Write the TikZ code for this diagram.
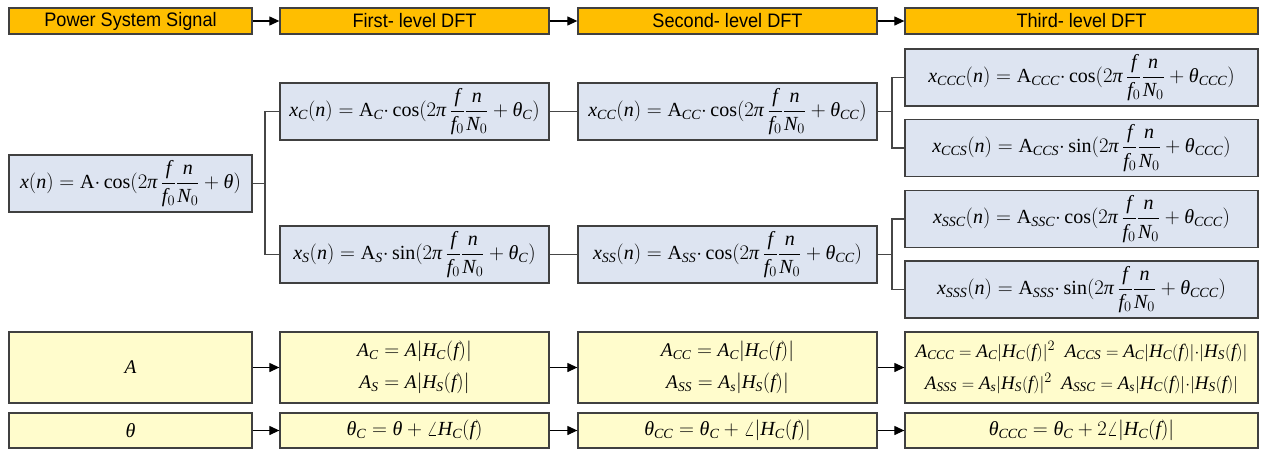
\documentclass[tikz,border=0pt]{standalone}
\usepackage{amsmath}
\usepackage{fontspec}
\setmainfont{Liberation Serif}
\newfontfamily\hdrfont[FakeStretch=0.93]{Liberation Sans}
\DeclareSymbolFont{operators}{TU}{\rmdefault}{m}{n}
\DeclareSymbolFont{tletters}{TU}{\rmdefault}{m}{it}
\def\doletters#1{\ifx#1\relax\else\Umathcode`#1="7 \symtletters `#1\relax\expandafter\doletters\fi}
\doletters xnfNACSHs\relax
\Umathchardef\theta="0 \symtletters "03B8\relax
\Umathchardef\pi="0 \symtletters "03C0\relax
\usetikzlibrary{arrows.meta}
\definecolor{hdrfill}{RGB}{255,190,0}
\definecolor{bluefill}{RGB}{221,228,241}
\definecolor{yelfill}{RGB}{255,252,204}
\definecolor{edge}{RGB}{64,64,64}
\definecolor{wire}{RGB}{70,70,70}
\newcommand{\FFn}{\,\dfrac{f}{f_0}\dfrac{n}{N_0}}
\newcommand{\cd}{{\cdot}}
\tikzset{
  box/.style={draw=edge, line width=1.3pt, inner sep=0pt, anchor=center},
  hdr/.style={box, fill=hdrfill, font=\hdrfont\fontsize{19.5}{21}\selectfont},
  eqbox/.style={box, fill=bluefill, font=\fontsize{20}{22}\selectfont},
  ybox/.style={box, fill=yelfill, align=center, font=\fontsize{19.3}{32}\selectfont},
  wbox/.style={box, fill=yelfill, align=center, font=\fontsize{19}{32}\selectfont},
  tbox/.style={box, fill=yelfill, font=\fontsize{20}{22}\selectfont},
  flow/.style={draw=black, line width=1.2pt, -{Triangle[length=10pt,width=9pt]}},
  tree/.style={draw=wire, line width=1.3pt}
}
\begin{document}
\begin{tikzpicture}[x=1pt,y=-1pt]
\useasboundingbox (0,0) rectangle (1265,450);
% headers
\node[hdr, minimum width=243pt, minimum height=26pt] (h1) at (130.5,21) {Power System Signal};
\node[hdr, minimum width=269pt, minimum height=26pt] (h2) at (414.5,21) {First- level DFT};
\node[hdr, minimum width=299pt, minimum height=26pt] (h3) at (727.5,21) {Second- level DFT};
\node[hdr, minimum width=353pt, minimum height=26pt] (h4) at (1081.5,21) {Third- level DFT};
\draw[flow] (h1) -- (h2);
\draw[flow] (h2) -- (h3);
\draw[flow] (h3) -- (h4);
% signal tree
\node[eqbox, minimum width=243pt, minimum height=57pt] (xn) at (130.5,183.5) {$x(n)=\mathrm{A}\cd\cos(2\pi\FFn+\theta)$};
\node[eqbox, minimum width=269pt, minimum height=57pt] (xC) at (414.5,111.5) {$x_C(n)=\mathrm{A}_C\cd\cos(2\pi\FFn+\theta_C)$};
\node[eqbox, minimum width=269pt, minimum height=57pt] (xS) at (414.5,254.5) {$x_S(n)=\mathrm{A}_S\cd\sin(2\pi\FFn+\theta_C)$};
\node[eqbox, minimum width=299pt, minimum height=57pt] (xCC) at (727.5,111.5) {$x_{CC}(n)=\mathrm{A}_{CC}\cd\cos(2\pi\FFn+\theta_{CC})$};
\node[eqbox, minimum width=299pt, minimum height=57pt] (xSS) at (727.5,254.5) {$x_{SS}(n)=\mathrm{A}_{SS}\cd\cos(2\pi\FFn+\theta_{CC})$};
\node[eqbox, minimum width=353pt, minimum height=57pt] (xCCC) at (1081.5,77.5) {$x_{CCC}(n)=\mathrm{A}_{CCC}\cd\cos(2\pi\FFn+\theta_{CCC})$};
\node[eqbox, minimum width=353pt, minimum height=57pt] (xCCS) at (1081.5,148) {$x_{CCS}(n)=\mathrm{A}_{CCS}\cd\sin(2\pi\FFn+\theta_{CCC})$};
\node[eqbox, minimum width=353pt, minimum height=57pt] (xSSC) at (1081.5,219) {$x_{SSC}(n)=\mathrm{A}_{SSC}\cd\cos(2\pi\FFn+\theta_{CCC})$};
\node[eqbox, minimum width=353pt, minimum height=57pt] (xSSS) at (1081.5,289.5) {$x_{SSS}(n)=\mathrm{A}_{SSS}\cd\sin(2\pi\FFn+\theta_{CCC})$};
\coordinate (j1) at (265,183.5);
\coordinate (j2) at (892,111.5);
\coordinate (j3) at (892,254.5);
\draw[tree] (xn.east) -- (j1);
\draw[tree] (xC.west) -| (j1) |- (xS.west);
\draw[tree] (xC.east) -- (xCC.west);
\draw[tree] (xS.east) -- (xSS.west);
\draw[tree] (xCC.east) -- (j2);
\draw[tree] (xCCC.west) -| (j2) |- (xCCS.west);
\draw[tree] (xSS.east) -- (j3);
\draw[tree] (xSSC.west) -| (j3) |- (xSSS.west);
% amplitude row
\node[ybox, minimum width=243pt, minimum height=71pt] (a1) at (130.5,367.5) {$A$};
\node[ybox, minimum width=269pt, minimum height=71pt] (a2) at (414.5,367.5) {$A_C=A\lvert H_C(f)\rvert$\\$A_S=A\lvert H_S(f)\rvert$};
\node[ybox, minimum width=299pt, minimum height=71pt] (a3) at (727.5,367.5) {$A_{CC}=A_C\lvert H_C(f)\rvert$\\$A_{SS}=A_s\lvert H_S(f)\rvert$};
\node[wbox, minimum width=353pt, minimum height=71pt] (a4) at (1081.5,367.5) {$A_{CCC}=A_C\lvert H_C(f)\rvert^2\;\;A_{CCS}=A_C\lvert H_C(f)\rvert\cd\lvert H_S(f)\rvert$\\$A_{SSS}=A_s\lvert H_S(f)\rvert^2\;\;A_{SSC}=A_s\lvert H_C(f)\rvert\cd\lvert H_S(f)\rvert$};
\draw[flow] (a1) -- (a2);
\draw[flow] (a2) -- (a3);
\draw[flow] (a3) -- (a4);
% phase row
\node[tbox, minimum width=243pt, minimum height=35pt] (t1) at (130.5,430.5) {$\theta$};
\node[tbox, minimum width=269pt, minimum height=35pt] (t2) at (414.5,430.5) {$\theta_C=\theta+\angle H_C(f)$};
\node[tbox, minimum width=299pt, minimum height=35pt] (t3) at (727.5,430.5) {$\theta_{CC}=\theta_C+\angle\lvert H_C(f)\rvert$};
\node[tbox, minimum width=353pt, minimum height=35pt] (t4) at (1081.5,430.5) {$\theta_{CCC}=\theta_C+2\angle\lvert H_C(f)\rvert$};
\draw[flow] (t1) -- (t2);
\draw[flow] (t2) -- (t3);
\draw[flow] (t3) -- (t4);
\end{tikzpicture}
\end{document}
